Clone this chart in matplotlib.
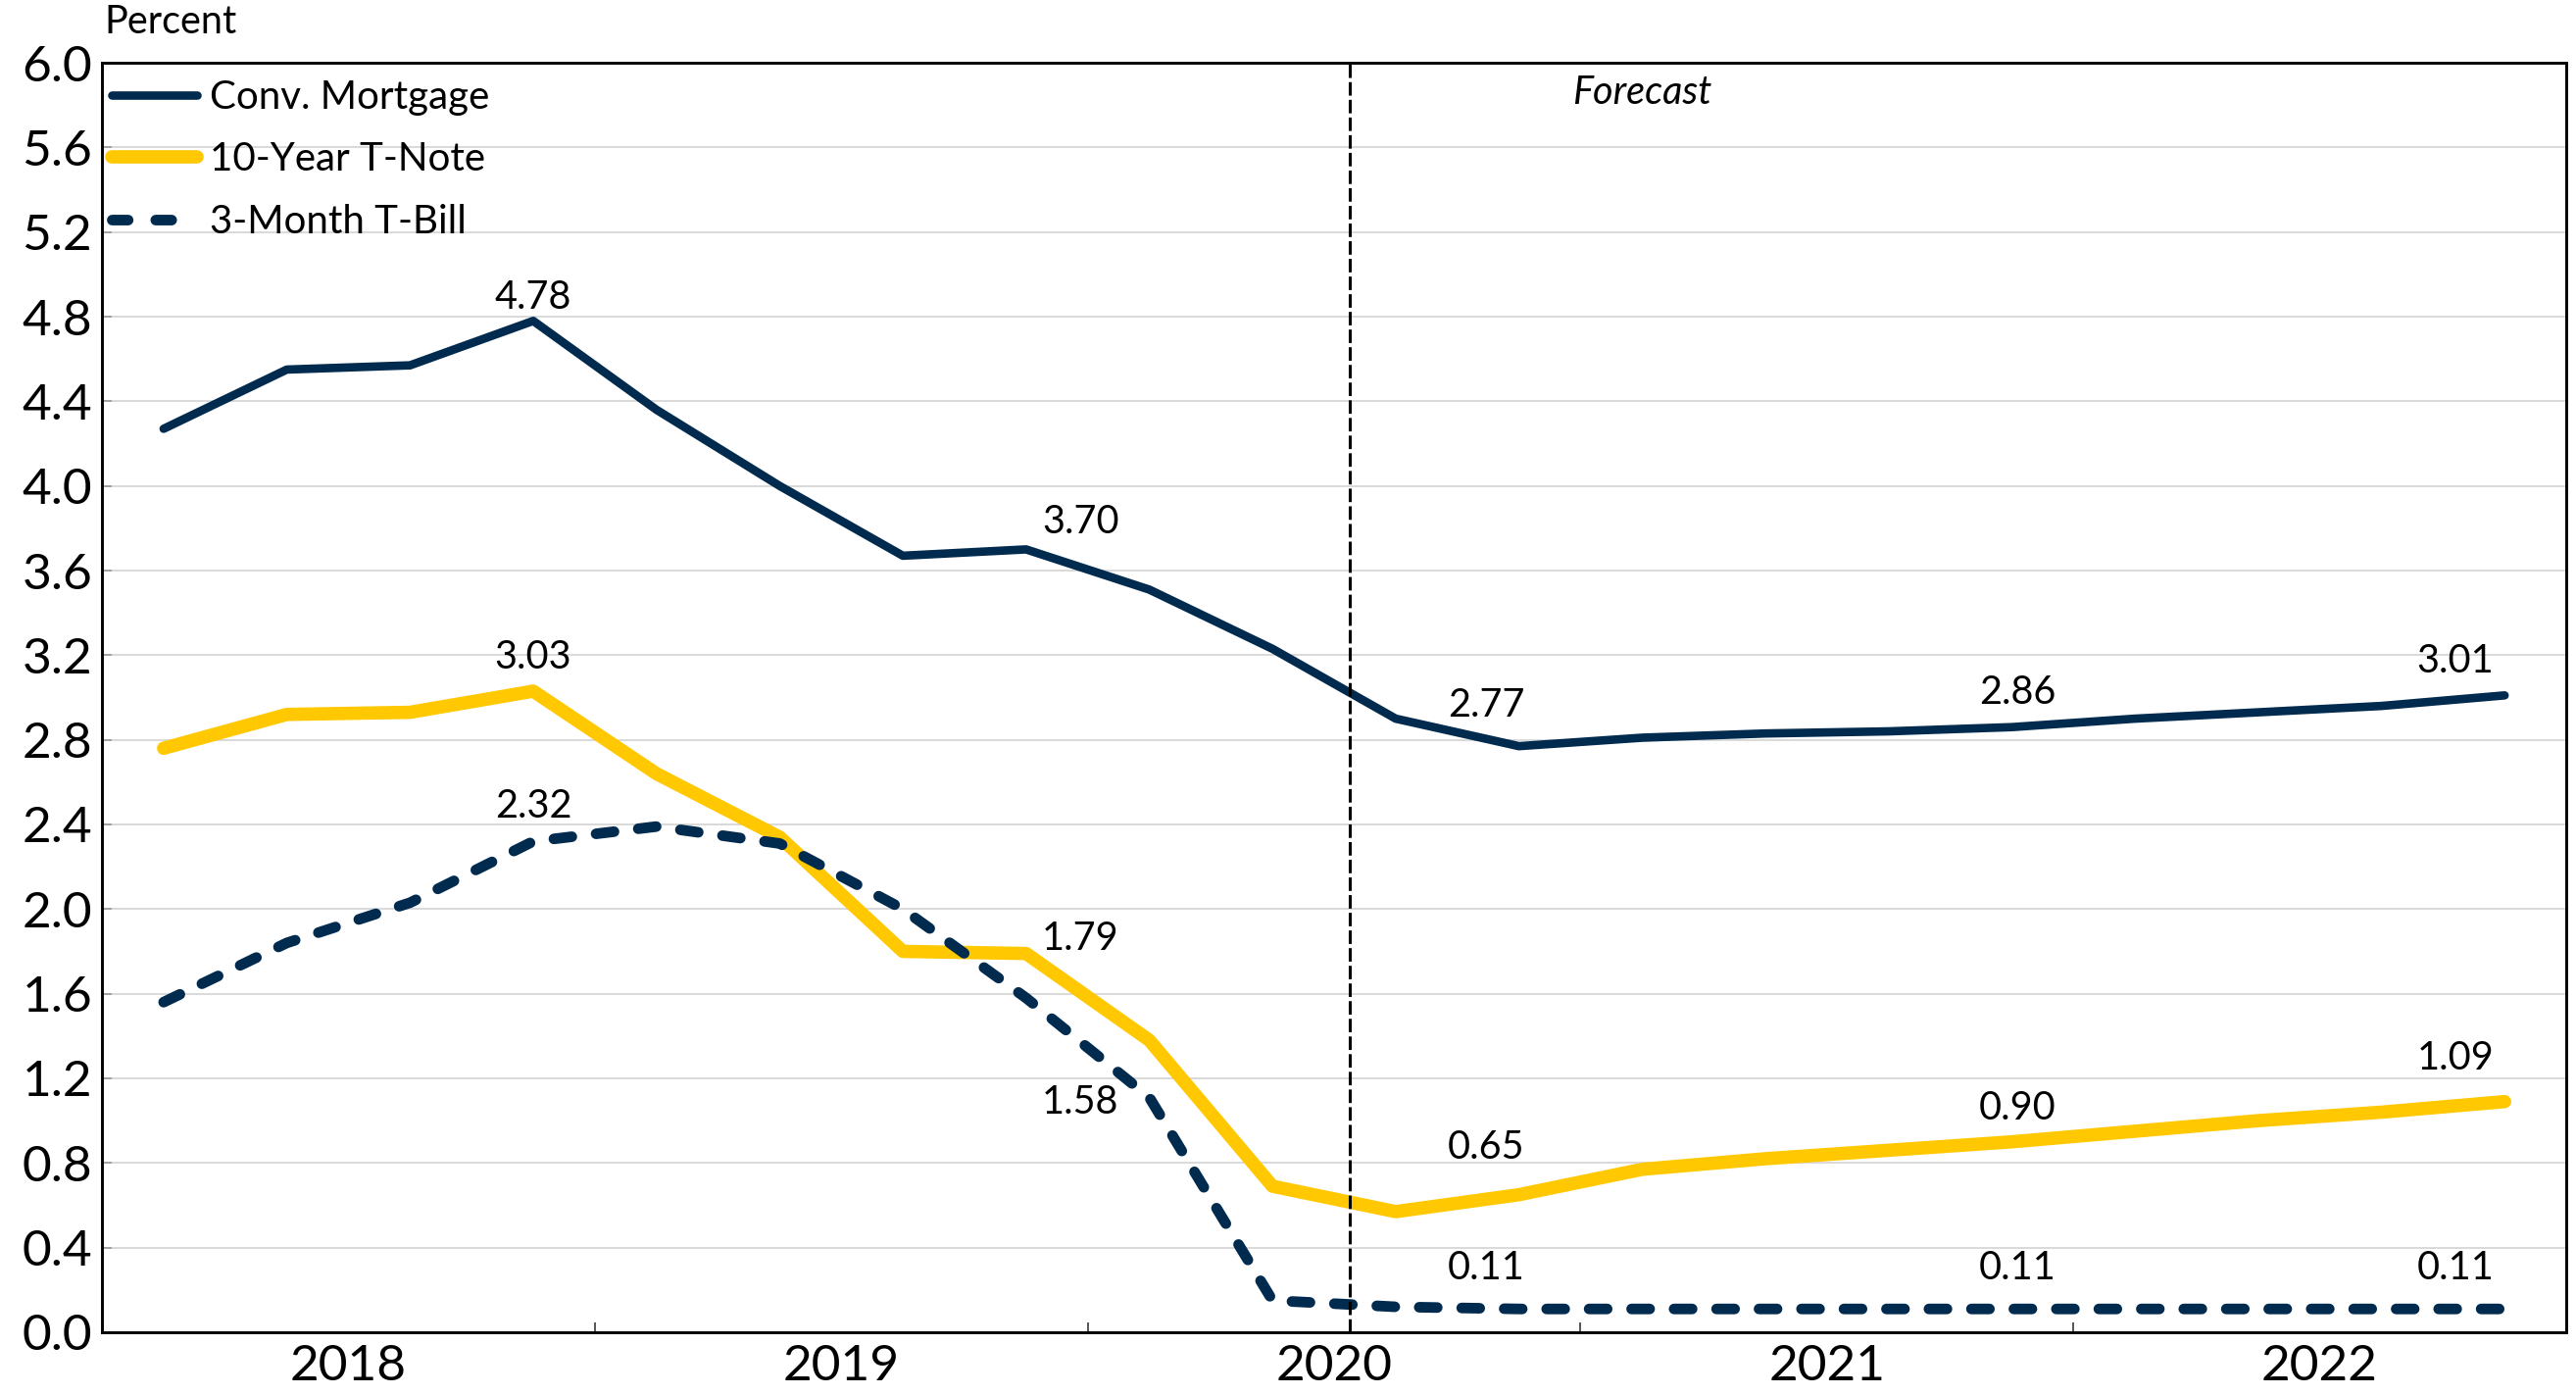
import matplotlib
matplotlib.use('Agg')
import matplotlib.pyplot as plt
from matplotlib.ticker import FixedLocator, NullFormatter

plt.rcParams['font.family'] = ['Lato', 'DejaVu Sans']

# quarterly points, 2018 Q1 .. 2022 Q4
quarters = list(range(20))
years = ['2018', '2019', '2020', '2021', '2022']

conv_mortgage = [4.27, 4.55, 4.57, 4.78, 4.36, 4.00, 3.67, 3.70, 3.51, 3.23,
                 2.90, 2.77, 2.81, 2.83, 2.84, 2.86, 2.90, 2.93, 2.96, 3.01]
ten_year = [2.76, 2.92, 2.93, 3.03, 2.64, 2.34, 1.80, 1.79, 1.38, 0.69,
            0.57, 0.65, 0.77, 0.82, 0.86, 0.90, 0.95, 1.00, 1.04, 1.09]
three_month = [1.56, 1.84, 2.03, 2.32, 2.39, 2.31, 2.00, 1.58, 1.11, 0.15,
               0.12, 0.11, 0.11, 0.11, 0.11, 0.11, 0.11, 0.11, 0.11, 0.11]

forecast_start = 9.63

navy = '#002A4E'
gold = '#FFC800'

fig = plt.figure(figsize=(26.28, 14.23), dpi=100)
ax = fig.add_axes([0.0396, 0.045, 0.9566, 0.910])

ax.plot(quarters, conv_mortgage, color=navy, lw=6.2, solid_capstyle='round',
        solid_joinstyle='round', label='Conv. Mortgage', zorder=4)
ax.plot(quarters, ten_year, color=gold, lw=9.8, solid_capstyle='round',
        solid_joinstyle='round', label='10-Year T-Note', zorder=3)
ax.plot(quarters, three_month, color=navy, lw=7.8, dashes=(1.7, 2.3),
        dash_capstyle='round', label='3-Month T-Bill', zorder=5)

ax.axvline(forecast_start, color='black', lw=2.2, dashes=(4.5, 1.4), zorder=6)

# data labels: (series, index, dx, dy) offsets in points
series = {'conv': conv_mortgage, 'ten': ten_year, 'three': three_month}
labels = [('conv', 3, 0, 17), ('ten', 3, 0, 25), ('three', 3, 0, 26),
          ('conv', 7, 40, 20), ('ten', 7, 40, 11), ('three', 7, 40, -77),
          ('conv', 11, -24, 30), ('ten', 11, -24, 35), ('three', 11, -24, 30),
          ('conv', 15, 4, 25), ('ten', 15, 4, 25), ('three', 15, 4, 30),
          ('conv', 19, -36, 25), ('ten', 19, -36, 32), ('three', 19, -36, 30)]
for name, i, dx, dy in labels:
    v = series[name][i]
    ax.annotate(f'{v:.2f}', (quarters[i], v), xytext=(dx, dy),
                textcoords='offset points', ha='center', va='center',
                fontsize=28.5, color='black', zorder=7)

ax.text(12.0, 5.86, 'Forecast', fontsize=28.5, style='italic', ha='center', va='center')
fig.text(0.0403, 0.984, 'Percent', fontsize=28.5, ha='left', va='center')

ax.set_xlim(-0.5, 19.5)
ax.set_ylim(0, 6.0)
ax.set_yticks([round(0.4 * k, 1) for k in range(16)])
ax.set_yticklabels([f'{0.4 * k:.1f}' for k in range(16)])
ax.set_xticks([1.5, 5.5, 9.5, 13.5, 17.5])
ax.set_xticklabels(years)
ax.xaxis.set_minor_locator(FixedLocator([3.5, 7.5, 11.5, 15.5]))
ax.xaxis.set_minor_formatter(NullFormatter())
ax.tick_params(axis='x', which='major', length=0, labelsize=37, pad=9)
ax.tick_params(axis='x', which='minor', direction='in', length=7, width=1.4, color='#555555')
ax.tick_params(axis='y', direction='in', length=7, width=1.2, color='#999999', labelsize=37, pad=7)

ax.grid(axis='y', color='#d0d0d0', lw=1.1)
ax.set_axisbelow(True)
for s in ax.spines.values():
    s.set_linewidth(2.1)
    s.set_color('black')

leg = ax.legend(loc='upper left', bbox_to_anchor=(0.004, 0.987), frameon=False, fontsize=29,
                handlelength=2.16, handletextpad=0.32, labelspacing=0.66, borderpad=0,
                borderaxespad=0)
# two clean dashes in the legend key, like the original
leg.get_lines()[2].set_dashes((1.5, 2.6))

fig.savefig('out.png', dpi=100)
